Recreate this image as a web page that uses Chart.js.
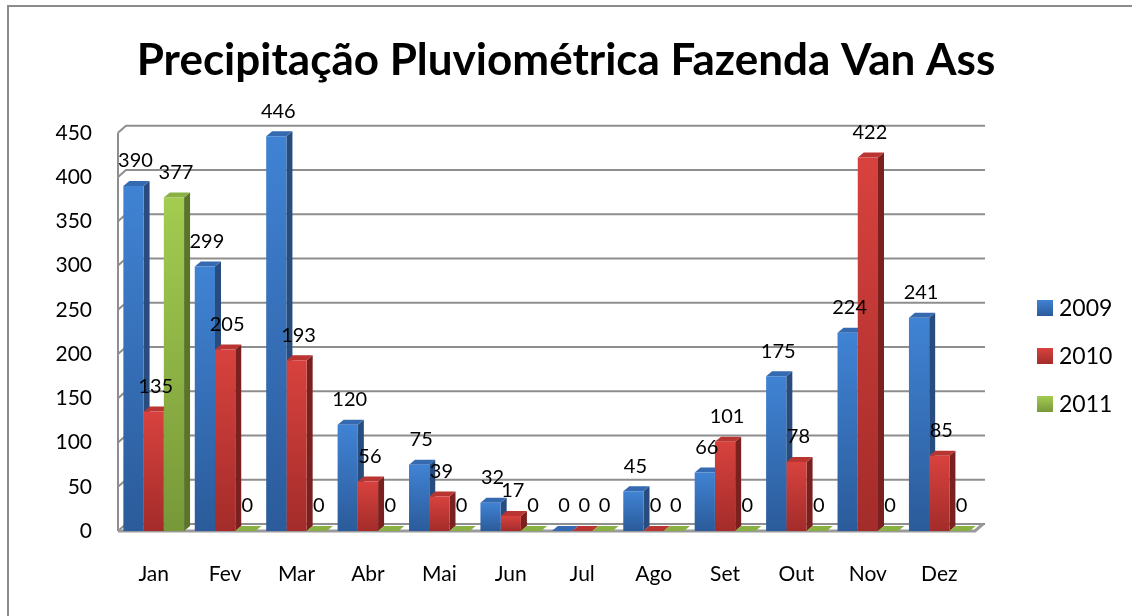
<!DOCTYPE html>
<html>
<head>
<meta charset="utf-8">
<script src="https://cdn.jsdelivr.net/npm/chart.js@4.4.1/dist/chart.umd.min.js"></script>
<style>
  html, body { margin: 0; padding: 0; background: #fff; }
  #wrap { width: 1132px; height: 616px; position: relative; }
</style>
</head>
<body>
<div id="wrap"><canvas id="chuvaChart"></canvas></div>
<script>
// valores (mm por mes)
const meses = ['Jan', 'Fev', 'Mar', 'Abr', 'Mai', 'Jun', 'Jul', 'Ago', 'Set', 'Out', 'Nov', 'Dez'];
const anos = ['2009', '2010', '2011'];
const chuva2009 = [390, 299, 446, 120, 75, 32, 0, 45, 66, 175, 224, 241];
const chuva2010 = [135, 205, 193, 56, 39, 17, 0, 0, 101, 78, 422, 85];
const chuva2011 = [377, 0, 0, 0, 0, 0, 0, 0, 0, 0, 0, 0];
const yMax = 450;
const yStep = 50;

// cores das faces: frente (clara -> escura), lateral, topo
const cores = [
    { light: '#4083D4', dark: '#2B5B9A', side: '#274C7D', top: '#3569B0' },
    { light: '#D8423E', dark: '#A32C2A', side: '#7A211F', top: '#B93532' },
    { light: '#A3CC50', dark: '#779839', side: '#5A7529', top: '#8AB044' }
];

const FONT = 'Lato, "Liberation Sans", sans-serif';
const BAR_DX = 6, BAR_DY = 5;    // profundidade das barras
const WALL_DX = 8, WALL_DY = 7;  // profundidade da parede do fundo

function frontFill(c, cor) {
    const chart = c.chart;
    if (!chart.chartArea || c.type !== 'data') return cor.dark;
    const ys = chart.scales.y;
    const top = ys.getPixelForValue(c.raw);
    const base = ys.getPixelForValue(0);
    if (base - top < 1) return cor.dark;
    const g = chart.ctx.createLinearGradient(0, top, 0, base);
    g.addColorStop(0, cor.light);
    g.addColorStop(1, cor.dark);
    return g;
}

function poly(ctx, pts, fill) {
    ctx.beginPath();
    ctx.moveTo(pts[0][0], pts[0][1]);
    for (let i = 1; i < pts.length; i++) ctx.lineTo(pts[i][0], pts[i][1]);
    ctx.closePath();
    ctx.fillStyle = fill;
    ctx.fill();
}

const tresD = {
    id: 'tresD',
    beforeDraw(chart) {
        const ctx = chart.ctx;
        const a = chart.chartArea;
        const ys = chart.scales.y;
        ctx.save();
        // moldura do grafico
        ctx.strokeStyle = '#8C8C8C';
        ctx.lineWidth = 2;
        ctx.beginPath();
        ctx.moveTo(8, chart.height + 2);
        ctx.lineTo(8, 6);
        ctx.lineTo(chart.width + 2, 6);
        ctx.stroke();

        // linhas de grade na parede do fundo
        ctx.strokeStyle = '#8E8E8E';
        ctx.lineWidth = 2;
        ys.ticks.forEach(t => {
            const y = ys.getPixelForValue(t.value);
            ctx.beginPath();
            ctx.moveTo(a.left, y);
            ctx.lineTo(a.left + WALL_DX, y - WALL_DY);
            ctx.lineTo(a.right + WALL_DX + 2, y - WALL_DY);
            ctx.stroke();
        });
        // aresta lateral esquerda
        ctx.beginPath();
        ctx.moveTo(a.left, ys.getPixelForValue(yMax));
        ctx.lineTo(a.left, a.bottom);
        ctx.stroke();
        // piso
        const yb = a.bottom;
        ctx.strokeStyle = '#9A9A9A';
        ctx.lineWidth = 3;
        ctx.beginPath();
        ctx.moveTo(a.left, yb);
        ctx.lineTo(a.right, yb);
        ctx.lineTo(a.right + WALL_DX, yb - WALL_DY);
        ctx.stroke();
        ctx.restore();
    },
    beforeDatasetsDraw(chart) {
        const ctx = chart.ctx;
        const metas = chart.data.datasets.map((d, i) => chart.getDatasetMeta(i));
        ctx.save();
        for (let j = 0; j < meses.length; j++) {
            metas.forEach((meta, i) => {
                const bar = meta.data[j];
                const cor = cores[i];
                const l = bar.x - bar.width / 2, r = bar.x + bar.width / 2;
                const top = bar.y, base = bar.base;
                // lateral
                if (base - top > 0.5) {
                    poly(ctx, [[r, top], [r + BAR_DX, top - BAR_DY], [r + BAR_DX, base - BAR_DY], [r, base]], cor.side);
                }
                // topo
                poly(ctx, [[l, top], [r, top], [r + BAR_DX, top - BAR_DY], [l + BAR_DX, top - BAR_DY]], cor.top);
            });
        }
        ctx.restore();
    },
    afterDatasetsDraw(chart) {
        const ctx = chart.ctx;
        ctx.save();
        ctx.font = '20px ' + FONT;
        ctx.fillStyle = '#000';
        ctx.textAlign = 'center';
        ctx.textBaseline = 'middle';
        chart.data.datasets.forEach((ds, i) => {
            const meta = chart.getDatasetMeta(i);
            meta.data.forEach((bar, j) => {
                ctx.fillText(String(ds.data[j]), bar.x + 2, bar.y - 25);
            });
        });
        ctx.restore();
    },
    afterDraw(chart) {
        // legenda
        const ctx = chart.ctx;
        ctx.save();
        ctx.font = '23px ' + FONT;
        ctx.textBaseline = 'middle';
        ctx.textAlign = 'left';
        const x0 = 1037, y0 = 308, gap = 48, sz = 16;
        anos.forEach((ano, i) => {
            const y = y0 + i * gap;
            const g = ctx.createLinearGradient(0, y - sz / 2, 0, y + sz / 2);
            g.addColorStop(0, cores[i].light);
            g.addColorStop(1, cores[i].dark);
            ctx.fillStyle = g;
            ctx.fillRect(x0, y - sz / 2, sz, sz);
            ctx.fillStyle = '#000';
            ctx.fillText(ano, x0 + 22, y + 1);
        });
        ctx.restore();
    }
};

const series = [chuva2009, chuva2010, chuva2011];

new Chart(document.getElementById('chuvaChart'), {
    type: 'bar',
    data: {
        labels: meses,
        datasets: series.map((vals, i) => ({
            label: anos[i],
            data: vals,
            backgroundColor: c => frontFill(c, cores[i]),
            borderWidth: 0,
            categoryPercentage: 0.85,
            barPercentage: 1.0
        }))
    },
    options: {
        responsive: true,
        maintainAspectRatio: false,
        animation: false,
        layout: { padding: 0 },
        plugins: {
            legend: { display: false },
            tooltip: { enabled: false },
            title: {
                display: true,
                text: 'Precipitação Pluviométrica Fazenda Van Ass',
                color: '#000',
                font: { family: FONT, size: 44, weight: 'bold', lineHeight: 1.2 },
                padding: { top: 34, bottom: 46 }
            }
        },
        scales: {
            x: {
                grid: { display: false, drawTicks: false },
                border: { display: false },
                ticks: { color: '#000', font: { family: FONT, size: 21 }, padding: 31 },
                afterFit: s => { s.height = 85; }
            },
            y: {
                min: 0, max: yMax,
                grid: { display: false, drawTicks: false },
                border: { display: false },
                ticks: { stepSize: yStep, color: '#000', font: { family: FONT, size: 21 }, padding: 26 },
                afterFit: s => { s.width = 118; }
            },
            // eixo vazio a direita: reserva o espaco da legenda
            yLegenda: {
                position: 'right',
                min: 0, max: yMax,
                grid: { display: false, drawTicks: false },
                border: { display: false },
                ticks: { display: false },
                afterFit: s => { s.width = 157; }
            }
        }
    },
    plugins: [tresD]
});
</script>
</body>
</html>
